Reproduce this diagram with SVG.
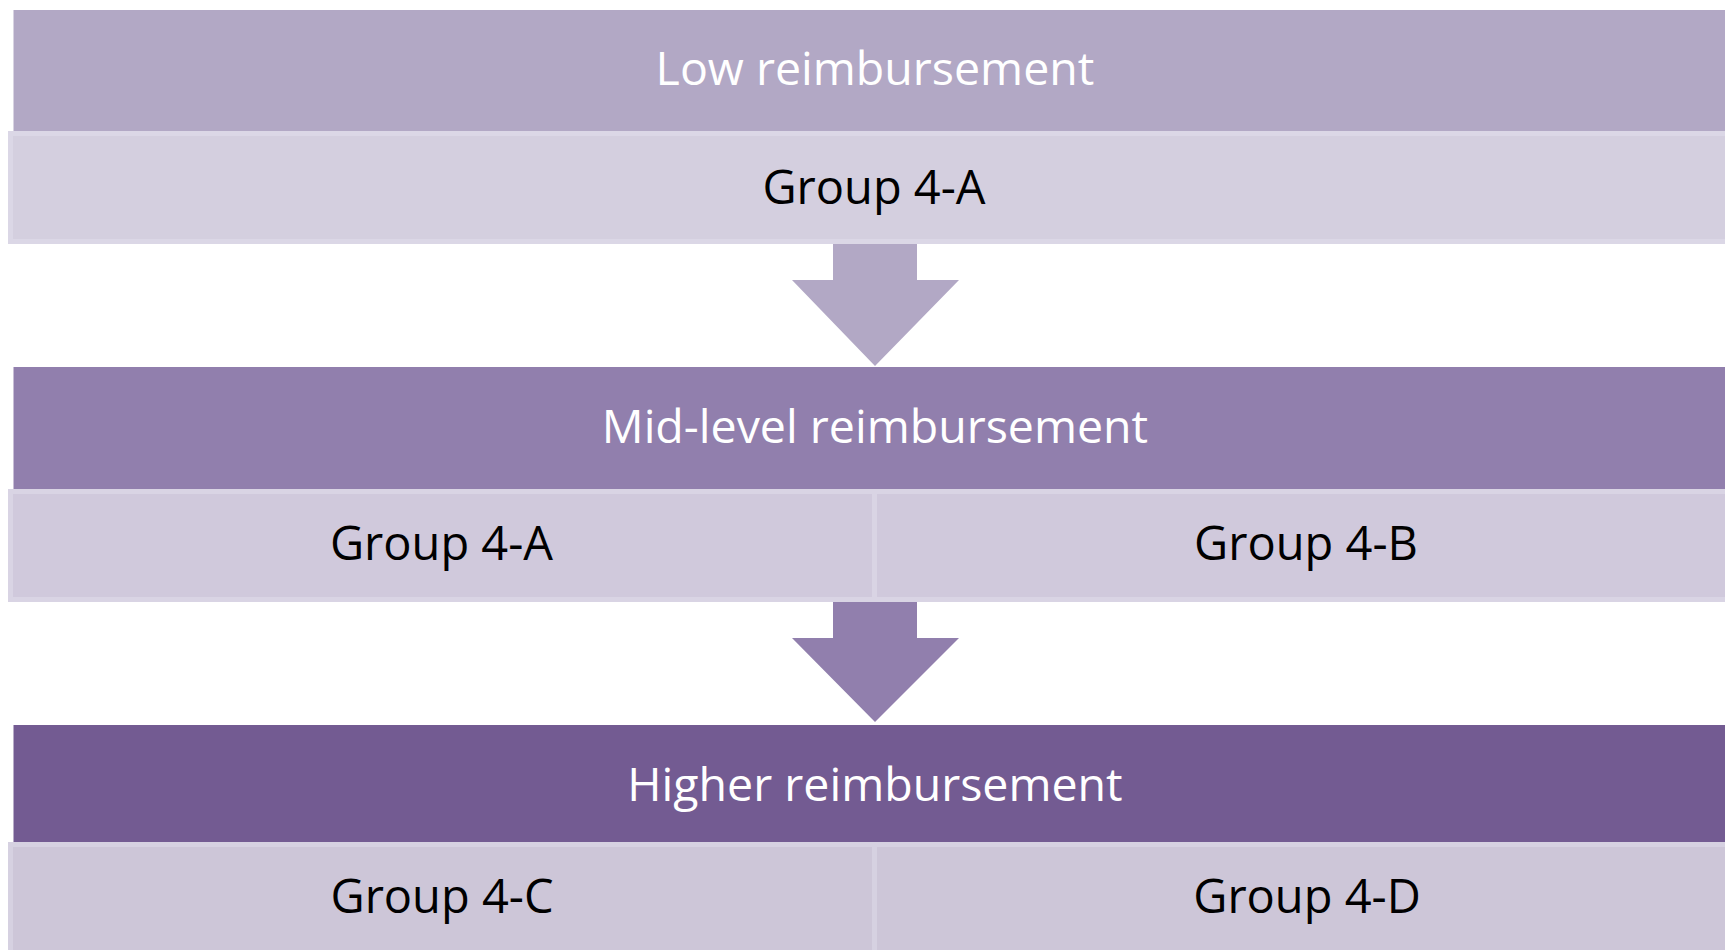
<svg xmlns="http://www.w3.org/2000/svg" width="1725" height="950" viewBox="0 0 1725 950">
<style>
.head{font-family:"Open Sans","Liberation Sans",sans-serif;font-size:46.5px;fill:#ffffff;text-anchor:middle}
.lbl{font-family:"Open Sans","Liberation Sans",sans-serif;font-size:47px;fill:#000000;text-anchor:middle}
.sub1{fill:#d4cfdf;stroke:#dbd7e6;stroke-width:5}
.sub2{fill:#d0c9dc;stroke:#d9d4e4;stroke-width:5}
.sub3{fill:#cdc6d8;stroke:#d6d1e1;stroke-width:5}
</style>
<rect width="1725" height="950" fill="#ffffff"/>
<g id="low">
<rect x="13.5" y="10" width="1730" height="121" fill="#b2a8c5"/>
<text class="head" x="875" y="85">Low reimbursement</text>
</g>
<g id="low-a">
<rect class="sub1" x="10.5" y="133.5" width="1730" height="108"/>
<text class="lbl" x="874" y="204">Group 4-A</text>
</g>
<g id="mid">
<rect x="13.5" y="367" width="1730" height="122" fill="#917fad"/>
<text class="head" x="875" y="443">Mid-level reimbursement</text>
</g>
<g id="mid-a">
<rect class="sub2" x="10.5" y="491.5" width="864" height="108"/>
<text class="lbl" x="441.5" y="560">Group 4-A</text>
</g>
<g id="mid-b">
<rect class="sub2" x="874.5" y="491.5" width="870" height="108"/>
<text class="lbl" x="1306" y="560">Group 4-B</text>
</g>
<g id="high">
<rect x="13.5" y="725" width="1730" height="117" fill="#735b92"/>
<text class="head" x="875" y="801">Higher reimbursement</text>
</g>
<g id="high-c">
<rect class="sub3" x="10.5" y="844.5" width="864" height="120"/>
<text class="lbl" x="442" y="913">Group 4-C</text>
</g>
<g id="high-d">
<rect class="sub3" x="874.5" y="844.5" width="870" height="120"/>
<text class="lbl" x="1307" y="913">Group 4-D</text>
</g>
<g id="connectors">
<polygon points="833,244 917,244 917,280 959,280 875,366 792,280 833,280" fill="#b2a8c5"/>
<polygon points="833,602 917,602 917,638 959,638 875,722 792,638 833,638" fill="#917fad"/>
</g>
</svg>
